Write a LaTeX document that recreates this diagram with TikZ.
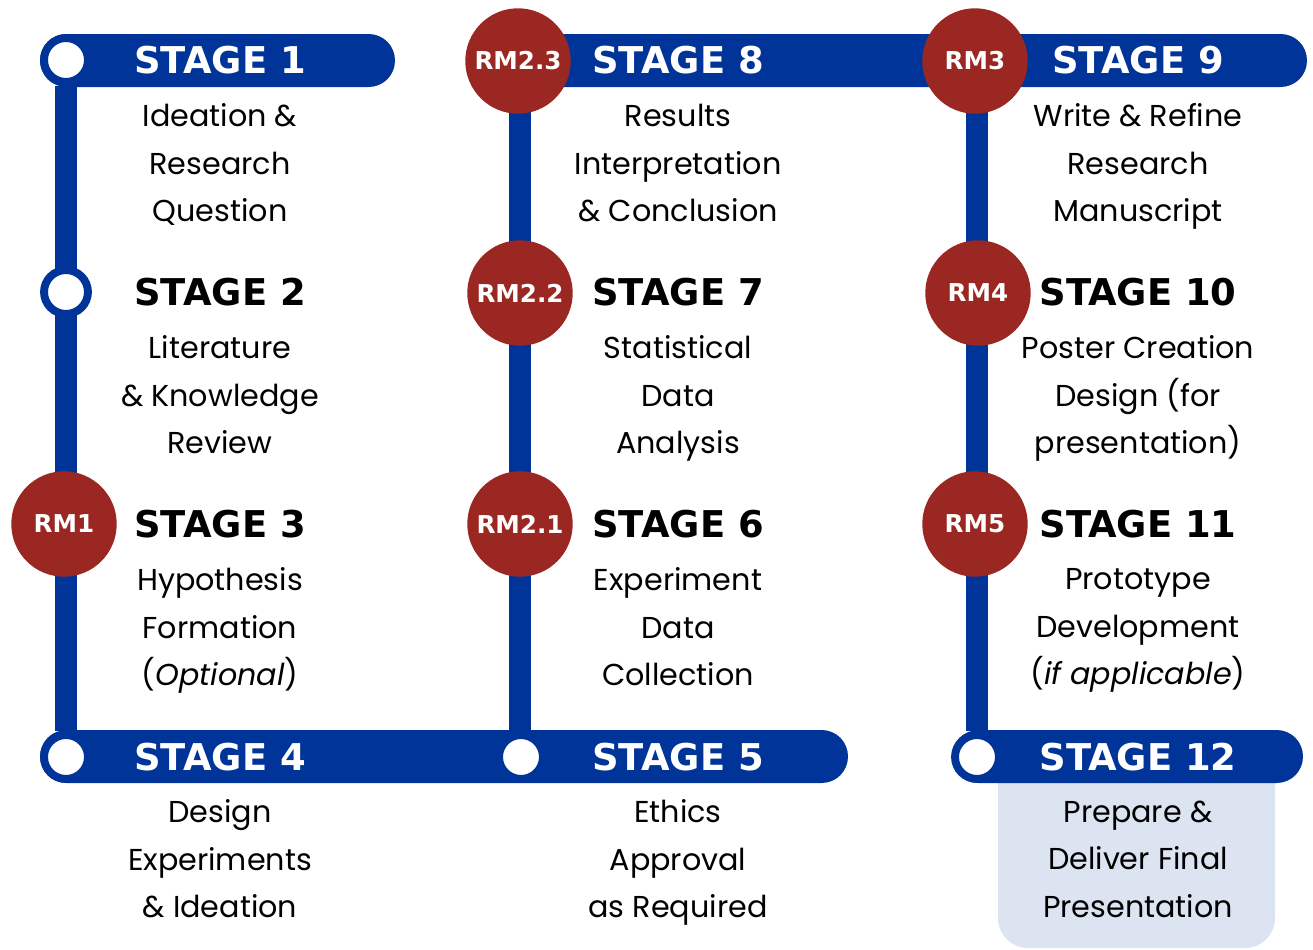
\documentclass[tikz,border=0pt]{standalone}
\usepackage{fontspec}
\setmainfont{Poppins}
\newfontfamily\headfont{DejaVu Sans}
\usetikzlibrary{backgrounds}

\definecolor{metroblue}{RGB}{0,52,153}
\definecolor{rmred}{RGB}{155,39,34}
\definecolor{panelblue}{RGB}{219,228,240}

\tikzset{
  track/.style={draw=metroblue, line width=13pt},
  bar/.style={fill=metroblue, rounded corners=15pt},
  stop/.style={circle, fill=white, draw=metroblue, line width=4.5pt,
    minimum size=25pt, inner sep=0pt},
  rm/.style={circle, fill=rmred, minimum size=60pt, inner sep=0pt,
    text=white, font=\headfont\bfseries\fontsize{14}{14}\selectfont},
  stagehd/.style={font=\headfont\bfseries\fontsize{21}{21}\selectfont},
  desc/.style={align=center, font=\fontsize{17.2}{27}\selectfont,
    execute at begin node=\strut, execute at end node=\strut},
}

\def\CA{220}
\def\CB{678}
\def\CC{1138}

\begin{document}
\begin{tikzpicture}[x=0.02cm, y=-0.02cm]
  \useasboundingbox (0,0) rectangle (1313,950);

  % stops and RM markers
  \node[stop] (P1)  at (66,60)   {};
  \node[stop] (P2)  at (66,292)  {};
  \node[rm]   (RM1) at (64,524)  {RM1};
  \node[stop] (P4)  at (66,757)  {};
  \node[stop] (P5)  at (521,757) {};
  \node[rm]   (RM21) at (520,524) {RM2.1};
  \node[rm]   (RM22) at (520,293) {RM2.2};
  \node[rm]   (RM23) at (518,61)  {RM2.3};
  \node[rm]   (RM3) at (975,61)  {RM3};
  \node[rm]   (RM4) at (978,293) {RM4};
  \node[rm]   (RM5) at (975,524) {RM5};
  \node[stop] (P12) at (977,757) {};

  \begin{scope}[on background layer]
    \fill[panelblue, rounded corners=17pt] (998,750) rectangle (1275,948);
    \draw[track] (P1) -- (P4);
    \draw[track] (RM23 -| RM21) -- (RM21 |- P5);
    \draw[track] (RM3 -| P12) -- (P12);
    \fill[bar] (40,34) rectangle (395,87);
    \fill[bar] (519,34) rectangle (1307,87);
    \fill[bar] (40,730) rectangle (848,783);
    \fill[bar] (952,730) rectangle (1303,783);
  \end{scope}

  % stage headings
  \node[stagehd, text=white] (S1)  at (\CA,60)  {STAGE 1};
  \node[stagehd]             (S2)  at (\CA,292) {STAGE 2};
  \node[stagehd]             (S3)  at (\CA,524) {STAGE 3};
  \node[stagehd, text=white] (S4)  at (\CA,757) {STAGE 4};
  \node[stagehd, text=white] (S5)  at (\CB,757) {STAGE 5};
  \node[stagehd]             (S6)  at (\CB,524) {STAGE 6};
  \node[stagehd]             (S7)  at (\CB,292) {STAGE 7};
  \node[stagehd, text=white] (S8)  at (\CB,60)  {STAGE 8};
  \node[stagehd, text=white] (S9)  at (\CC,60)  {STAGE 9};
  \node[stagehd]             (S10) at (\CC,292) {STAGE 10};
  \node[stagehd]             (S11) at (\CC,524) {STAGE 11};
  \node[stagehd, text=white] (S12) at (\CC,757) {STAGE 12};

  % descriptions
  \node[desc] (D1)  at (\CA,170) {Ideation \&\\Research\\Question};
  \node[desc] (D2)  at (\CA,402) {Literature\\\& Knowledge\\Review};
  \node[desc] (D3)  at (\CA,634) {Hypothesis\\Formation\\(\textit{Optional})};
  \node[desc] (D4)  at (\CA,866) {Design\\Experiments\\\& Ideation};
  \node[desc] (D5)  at (\CB,866) {Ethics\\Approval\\as Required};
  \node[desc] (D6)  at (\CB,634) {Experiment\\Data\\Collection};
  \node[desc] (D7)  at (\CB,402) {Statistical\\Data\\Analysis};
  \node[desc] (D8)  at (\CB,170) {Results\\Interpretation\\\& Conclusion};
  \node[desc] (D9)  at (\CC,170) {Write \& Refine\\Research\\Manuscript};
  \node[desc] (D10) at (\CC,402) {Poster Creation\\Design (for\\presentation)};
  \node[desc] (D11) at (\CC,634) {Prototype\\Development\\(\textit{if applicable})};
  \node[desc] (D12) at (\CC,866) {Prepare \&\\Deliver Final\\Presentation};
\end{tikzpicture}
\end{document}
